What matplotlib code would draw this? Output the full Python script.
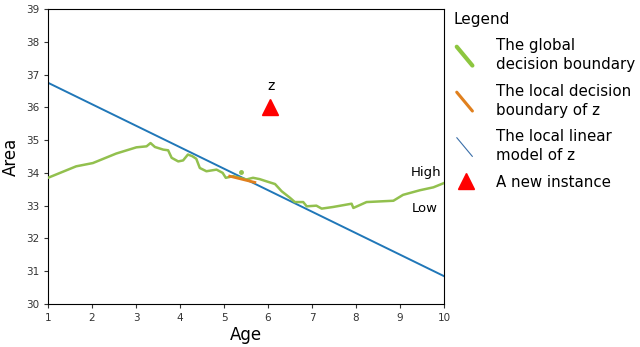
import numpy as np
import matplotlib.pyplot as plt
from matplotlib.lines import Line2D
from matplotlib.legend_handler import HandlerBase

# global decision boundary
global_age = [1.0, 1.64, 2.02, 2.55, 3.01, 3.24, 3.33, 3.43, 3.62, 3.73, 3.81, 3.96,
              4.07, 4.18, 4.28, 4.37, 4.45, 4.6, 4.83, 4.97, 5.04, 5.21, 5.36, 5.51,
              5.66, 5.81, 5.97, 6.16, 6.31, 6.5, 6.61, 6.8, 6.88, 7.1, 7.22, 7.48,
              7.9, 7.94, 8.24, 8.85, 9.07, 9.45, 9.76, 10.0]
global_area = [33.85, 34.2, 34.3, 34.59, 34.78, 34.81, 34.91, 34.79, 34.71, 34.69, 34.46, 34.35,
               34.38, 34.56, 34.51, 34.43, 34.15, 34.05, 34.1, 34.0, 33.85, 33.9, 33.85, 33.8,
               33.85, 33.81, 33.74, 33.66, 33.44, 33.24, 33.11, 33.11, 32.98, 33.0, 32.91, 32.96,
               33.06, 32.93, 33.11, 33.15, 33.33, 33.47, 33.56, 33.69]

# local decision boundary of z
local_age = [5.13, 5.70]
local_area = [33.9, 33.71]

# local linear model of z
linear_age = [1, 10]
linear_area = [36.75, 30.85]

# the new instance z
z_age = [6.04]
z_area = [36.0]

green = '#92c04e'
orange = '#e0801e'
blue = '#2077b8'


class DiagonalHandler(HandlerBase):
    # draws the legend line as a short diagonal stroke
    def create_artists(self, legend, orig_handle, xdescent, ydescent,
                       width, height, fontsize, trans):
        x0, x1 = -xdescent + 2, -xdescent + width - 4
        y0, y1 = -ydescent + height + 3, -ydescent - 3
        line = Line2D([x0, x1], [y0, y1], color=orig_handle.get_color(),
                      lw=orig_handle.get_linewidth(), solid_capstyle='round',
                      transform=trans)
        return [line]


fig = plt.figure(figsize=(6.4, 3.47), dpi=100)
ax = fig.add_axes([48 / 640, 43 / 347, 396 / 640, 295 / 347])

ax.plot(linear_age, linear_area, color=blue, lw=1.4, zorder=2)
ax.plot(global_age, global_area, color=green, lw=1.8, zorder=3)
ax.plot([5.38], [34.02], 'o', color=green, ms=2.5, zorder=3)
ax.plot(local_age, local_area, color=orange, lw=2.0, zorder=4)
ax.plot(z_age, z_area, '^', color='red', ms=12, zorder=5)

ax.text(6.06, 36.45, 'z', ha='center', va='bottom', fontsize=10)
ax.text(9.95, 34.02, 'High', ha='right', va='center', fontsize=9.5)
ax.text(9.85, 32.9, 'Low', ha='right', va='center', fontsize=9.5)

ax.set_xlim(1, 10)
ax.set_ylim(30, 39)
ax.set_xticks(range(1, 11))
ax.set_yticks(range(30, 40))
ax.tick_params(labelsize=7.5, length=3, colors='#333333')
ax.set_xlabel('Age', fontsize=12, labelpad=2)
ax.set_ylabel('Area', fontsize=12, labelpad=4)

h_global = Line2D([], [], color='#8dc63f', lw=3)
h_local = Line2D([], [], color=orange, lw=2.2)
h_linear = Line2D([], [], color='#3a6ea8', lw=0.8)
h_z = Line2D([], [], marker='^', color='red', ms=11, ls='none')

diag = DiagonalHandler()
leg = ax.legend([h_global, h_local, h_linear, h_z],
                ['The global\ndecision boundary', 'The local decision\nboundary of z',
                 'The local linear\nmodel of z', 'A new instance'],
                handler_map={h_global: diag, h_local: diag, h_linear: diag},
                title='Legend', alignment='left', loc='upper left',
                bbox_to_anchor=(1.01, 1.01), frameon=False, fontsize=10.8,
                title_fontsize=11, handlelength=1.6, handletextpad=1.2,
                labelspacing=0.75, borderaxespad=0)
for t in leg.get_texts():
    t.set_linespacing(1.35)

fig.savefig('out.png', dpi=100)
